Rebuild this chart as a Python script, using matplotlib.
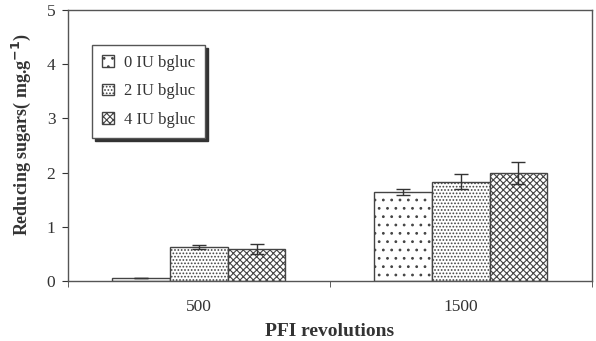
import matplotlib.pyplot as plt
import numpy as np

plt.rcParams['font.family'] = ['Liberation Serif', 'DejaVu Serif']
plt.rcParams['hatch.linewidth'] = 0.8
plt.rcParams['hatch.color'] = '#333333'

revolutions = ['500', '1500']
doses = ['0 IU bgluc', '2 IU bgluc', '4 IU bgluc']
sugars = [[0.05, 1.64],
          [0.63, 1.83],
          [0.59, 1.99]]
errors = [[0.0, 0.06],
          [0.04, 0.14],
          [0.10, 0.20]]
hatches = ['..', '.....', 'xxxxx']

fig = plt.figure(figsize=(5.96, 3.41), dpi=100)
ax = fig.add_axes([0.114, 0.176, 0.879, 0.795])

x = np.arange(len(revolutions))
w = 0.22
for i in range(len(doses)):
    ax.bar(x + (i - 1) * w, sugars[i], w, yerr=errors[i], label=doses[i],
           color='white', edgecolor='#444444', linewidth=1.0, hatch=hatches[i],
           error_kw=dict(ecolor='#333333', elinewidth=1.0, capsize=5, capthick=1.0))

ax.set_xlim(-0.5, 1.5)
ax.set_ylim(0, 5)
ax.set_yticks(range(6))
ax.set_xticks(x)
ax.set_xticklabels(revolutions)
ax.set_xticks([-0.5, 0.5, 1.5], minor=True)
ax.tick_params(axis='x', which='major', length=0, pad=13, labelsize=12.5, colors='#333333')
ax.tick_params(axis='x', which='minor', length=4, direction='out', color='#444444')
ax.tick_params(axis='y', length=4, direction='out', labelsize=12.5, colors='#333333', pad=5)
for s in ax.spines.values():
    s.set_color('#555555')
    s.set_linewidth(1.0)

ax.set_ylabel('Reducing sugars( mg.g$^{\\mathbf{-1}}$)', fontsize=13, fontweight='bold', color='#333333')
ax.yaxis.set_label_coords(-0.066, 0.54)
ax.set_xlabel('PFI revolutions', fontsize=14, fontweight='bold', color='#333333', labelpad=6)

leg = ax.legend(loc='upper left', bbox_to_anchor=(0.046, 0.871), borderaxespad=0, fancybox=False,
                shadow={'color': '#333333', 'alpha': 1.0}, framealpha=1, edgecolor='#555555',
                fontsize=12, handlelength=0.7, handleheight=0.7, handletextpad=0.6,
                labelspacing=0.75, borderpad=0.6, labelcolor='#333333')
leg.get_frame().set_linewidth(1.0)

fig.savefig('out.png', dpi=100)
